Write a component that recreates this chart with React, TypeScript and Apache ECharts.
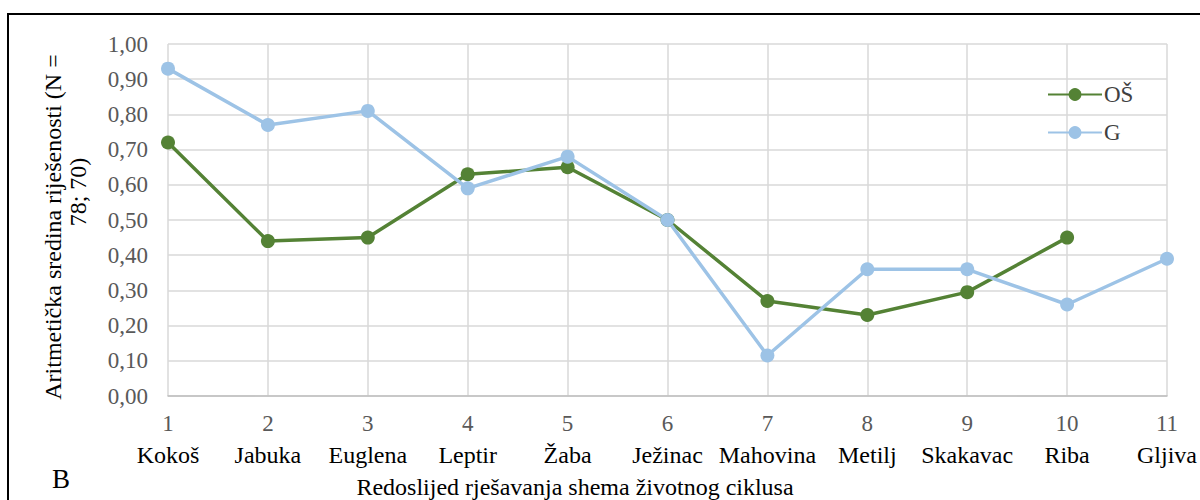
import React, { useEffect, useRef } from "react";
import * as echarts from "echarts";

const numbers = ["1", "2", "3", "4", "5", "6", "7", "8", "9", "10", "11"];
const organisms = ["Kokoš", "Jabuka", "Euglena", "Leptir", "Žaba", "Ježinac", "Mahovina", "Metilj", "Skakavac", "Riba", "Gljiva"];
const osValues: (number | null)[] = [0.72, 0.44, 0.45, 0.63, 0.65, 0.5, 0.27, 0.23, 0.295, 0.45, null];
const gValues: (number | null)[] = [0.93, 0.77, 0.81, 0.59, 0.68, 0.5, 0.115, 0.36, 0.36, 0.26, 0.39];

const FONT = "Liberation Serif";

export default function App() {
  const ref = useRef<HTMLDivElement>(null);
  useEffect(() => {
    const chart = echarts.init(ref.current!, null, { renderer: "svg" });
    chart.setOption({
      animation: false,
      textStyle: { fontFamily: FONT },
      grid: { left: 168, right: 28, top: 44, bottom: 104, containLabel: false },
      graphic: [
        {
          type: "rect",
          shape: { x: 8, y: 14, width: 1200, height: 500 },
          style: { fill: "none", stroke: "#000", lineWidth: 2 },
          silent: true,
        },
        {
          type: "text",
          x: 52,
          y: 479,
          style: { text: "B", fontFamily: FONT, fontSize: 27, fill: "#000", verticalAlign: "middle" },
        },
        {
          type: "text",
          x: 575,
          y: 487,
          style: {
            text: "Redoslijed rješavanja shema životnog ciklusa",
            fontFamily: FONT,
            fontSize: 24,
            fill: "#000",
            align: "center",
            verticalAlign: "middle",
          },
        },
        {
          type: "text",
          x: 53,
          y: 227,
          rotation: Math.PI / 2,
          style: {
            text: "Aritmetička sredina riješenosti (N =",
            fontFamily: FONT,
            fontSize: 24,
            fill: "#000",
            align: "center",
            verticalAlign: "middle",
          },
        },
        {
          type: "text",
          x: 78,
          y: 192,
          rotation: Math.PI / 2,
          style: {
            text: "78; 70)",
            fontFamily: FONT,
            fontSize: 24,
            fill: "#000",
            align: "center",
            verticalAlign: "middle",
          },
        },
      ],
      legend: {
        orient: "vertical",
        left: 1042,
        top: 78,
        itemWidth: 54,
        itemHeight: 16,
        itemGap: 15,
        textStyle: { fontFamily: FONT, fontSize: 23, color: "#404040", padding: [0, 0, 0, -3] },
        data: ["OŠ", "G"],
      },
      xAxis: {
        type: "category",
        boundaryGap: false,
        data: numbers,
        axisLine: { lineStyle: { color: "#bfbfbf", width: 1.5 } },
        axisTick: { show: false },
        splitLine: { show: true, lineStyle: { color: "#d9d9d9", width: 1.5 } },
        axisLabel: {
          margin: 8,
          interval: 0,
          fontFamily: FONT,
          formatter: (v: string, i: number) => `{n|${v}}\n{c|${organisms[i]}}`,
          rich: {
            n: { fontFamily: FONT, fontSize: 23, color: "#595959", lineHeight: 38 },
            c: { fontFamily: FONT, fontSize: 24, color: "#000", lineHeight: 26 },
          },
        },
      },
      yAxis: {
        type: "value",
        min: 0,
        max: 1,
        interval: 0.1,
        axisLine: { show: false },
        axisTick: { show: false },
        splitLine: { lineStyle: { color: "#d9d9d9", width: 1.5 } },
        axisLabel: {
          margin: 20,
          fontFamily: FONT,
          fontSize: 23,
          color: "#595959",
          formatter: (v: number) => v.toFixed(2).replace(".", ","),
        },
      },
      series: [
        {
          name: "OŠ",
          type: "line",
          data: osValues,
          symbol: "circle",
          symbolSize: 14,
          lineStyle: { color: "#548235", width: 3.5 },
          itemStyle: { color: "#548235" },
        },
        {
          name: "G",
          type: "line",
          data: gValues,
          symbol: "circle",
          symbolSize: 14,
          lineStyle: { color: "#9dc3e6", width: 3.5 },
          itemStyle: { color: "#9dc3e6" },
        },
      ],
    });
    return () => chart.dispose();
  }, []);
  return (
    <div
      ref={ref}
      style={{ position: "fixed", left: 0, top: 0, width: 1200, height: 500, background: "#fff" }}
    />
  );
}
